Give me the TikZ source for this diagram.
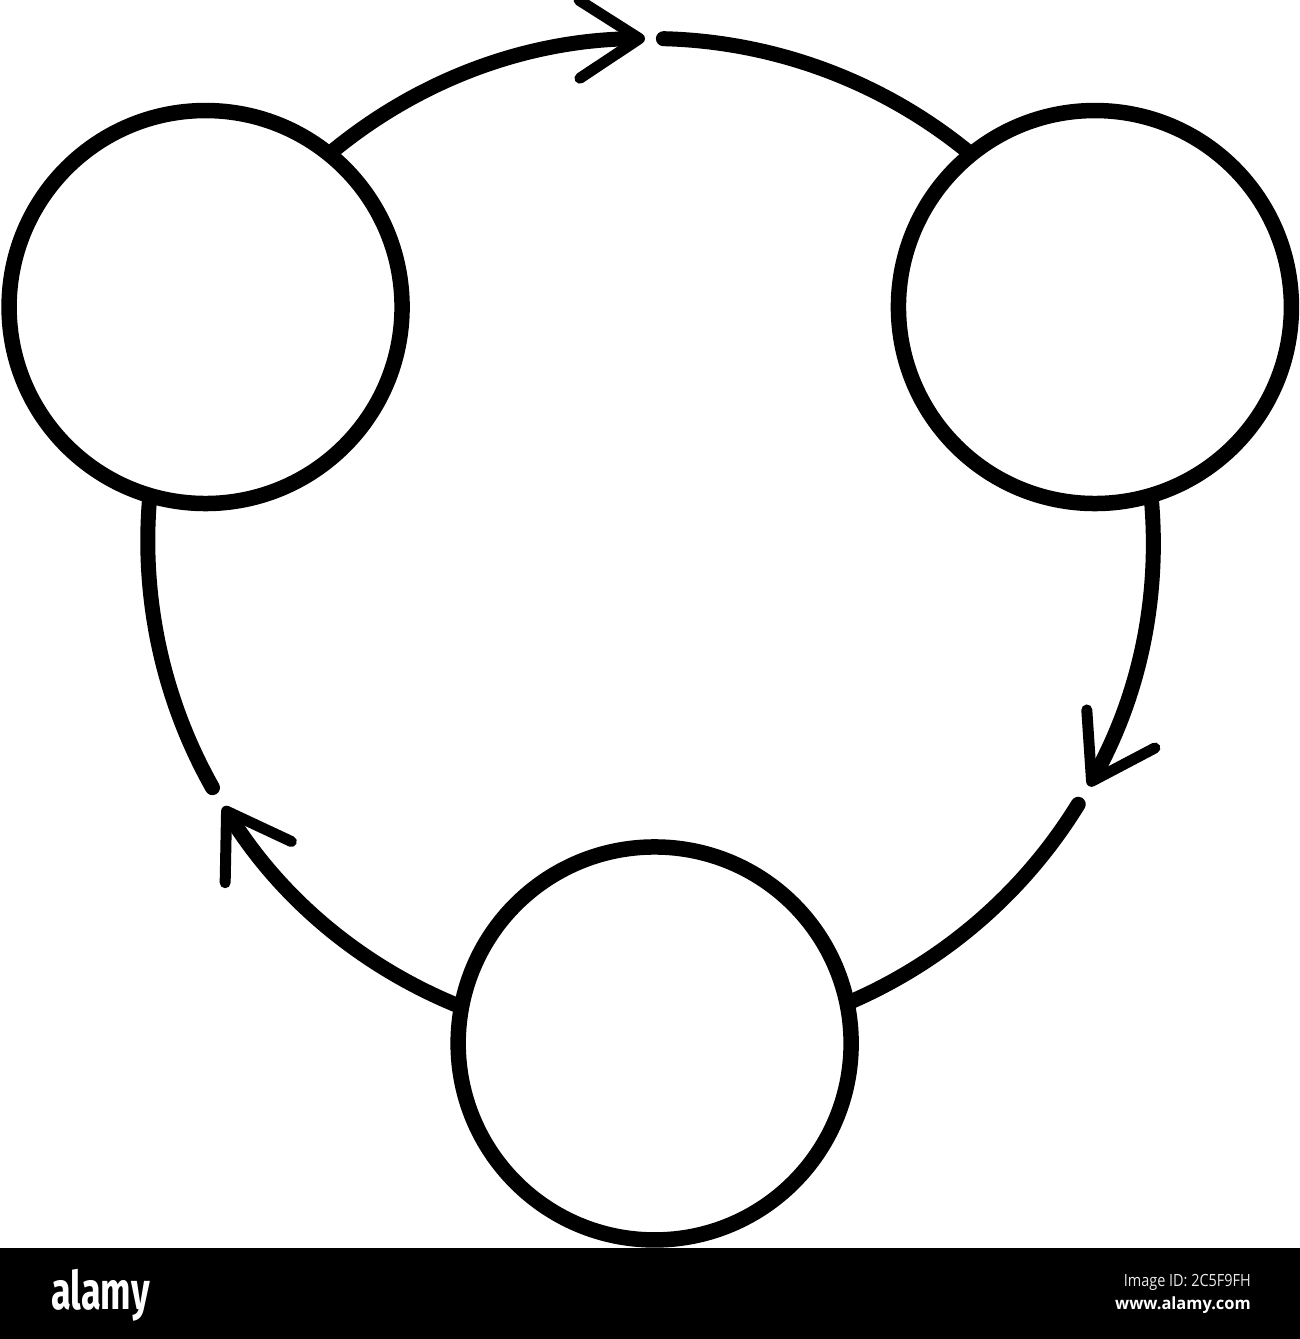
\documentclass[tikz,border=0pt]{standalone}
\usepackage{fontspec}
\usetikzlibrary{arrows.meta,backgrounds}
\newfontfamily\logofont{Fira Sans}
\newfontfamily\idfont{Open Sans}

\tikzset{
  ring/.style={circle, draw, line width=15.5pt, fill=white, minimum size=393pt, inner sep=0pt},
  flow/.style={line width=15pt, line cap=round},
  tip/.style={-{Straight Barb[length=60pt, width=78pt, line width=11pt, round]}},
  wmtext/.style={text=white, inner sep=0pt}
}

\begin{document}
\begin{tikzpicture}[x=1pt,y=1pt]

    \useasboundingbox (0,0) rectangle (1300,1339);

    \coordinate (O) at (650.25,798);


    \node[ring] (n1) at ([shift={(152.25:502.5pt)}]O) {};

    \node[ring] (n2) at ([shift={(27.75:502.5pt)}]O) {};

    \node[ring] (n3) at ([shift={(-89.5:502.5pt)}]O) {};


    \begin{scope}[on background layer]

    \draw[flow, tip] (n1.center) arc[start angle=152.25, end angle=90.6, radius=502.5pt];

    \draw[flow] (n2.center) arc[start angle=27.75, end angle=88.5, radius=502.5pt];


    \draw[flow, tip] (n2.center) arc[start angle=27.75, end angle=-29.2, radius=502.5pt];

    \draw[flow] (n3.center) arc[start angle=-89.5, end angle=-31.6, radius=502.5pt];


    \draw[flow, tip] (n3.center) arc[start angle=270.5, end angle=211.9, radius=502.5pt];

    \draw[flow] (n1.center) arc[start angle=152.25, end angle=209.4, radius=502.5pt];

    \end{scope}


    \fill (0,0) rectangle (1300,91);

    \node[wmtext, anchor=base west] (logo) at (51,29) {\scalebox{0.68}[1]{\logofont\bfseries\fontsize{53}{53}\selectfont alamy}};

    \node[wmtext, anchor=base east, text=black!8] (imgid) at (1251,52) {\scalebox{0.86}[1]{\idfont\fontsize{16.8}{17}\selectfont Image ID: 2C5F9FH}};

    \node[wmtext, anchor=base east] (site) at (1251,29) {\scalebox{0.98}[1]{\idfont\bfseries\fontsize{16.8}{17}\selectfont www.alamy.com}};

\end{tikzpicture}
\end{document}
